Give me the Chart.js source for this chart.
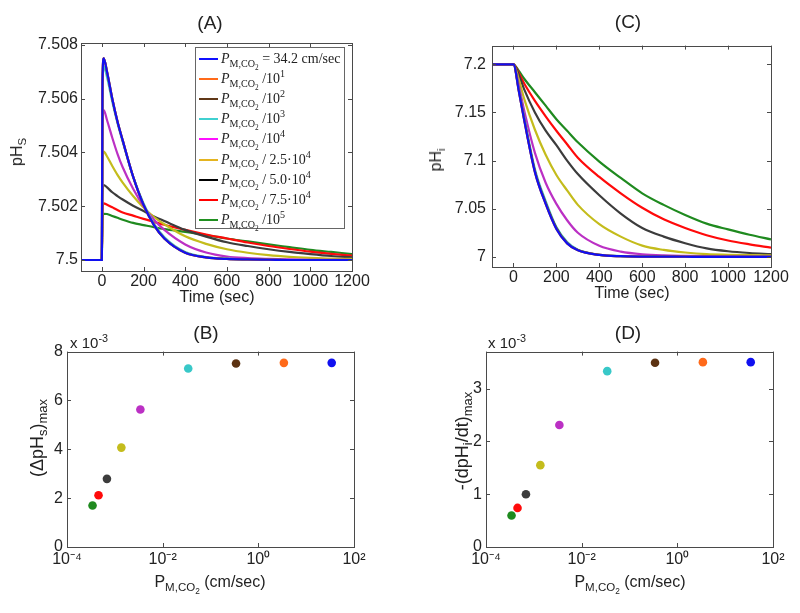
<!DOCTYPE html>
<html>
<head>
<meta charset="utf-8">
<script src="https://cdn.jsdelivr.net/npm/chart.js@4.4.1/dist/chart.umd.min.js"></script>
<style>
    body { margin: 0; background: #fff; }
    #page { position: relative; width: 800px; height: 613px; overflow: hidden;
            font-family: "Liberation Sans", Arial, sans-serif; color: #222; }
    canvas { position: absolute; }
    .lbl { position: absolute; transform: translate(-50%, -50%); white-space: nowrap; font-size: 16px; }
    .rot { transform: translate(-50%, -50%) rotate(-90deg); }
    .big { font-size: 18px; }
    .title { font-size: 19px; }
    sub, sup { font-size: 72%; line-height: 0; }
    #legendA { position: absolute; left: 195px; top: 47px; width: 150px; height: 182px;
               border: 1px solid #666; background: #fff; box-sizing: border-box;
               font-family: "Liberation Serif", "Times New Roman", serif; font-size: 14px; }
    .row { position: absolute; left: 0; height: 18px; line-height: 18px; }
    .swatch { position: absolute; left: 3px; top: 8px; width: 19px; height: 2px; }
    .txt { position: absolute; left: 25px; top: 0; white-space: nowrap; }
</style>
</head>
<body>
<div id="page">
    <canvas id="chartA" width="378" height="265" style="left:0;top:30px"></canvas>
    <canvas id="chartC" width="400" height="265" style="left:400px;top:30px"></canvas>
    <canvas id="chartB" width="380" height="240" style="left:0;top:338px"></canvas>
    <canvas id="chartD" width="400" height="240" style="left:400px;top:338px"></canvas>

    <div class="lbl title" style="left:210px;top:23px">(A)</div>
    <div class="lbl title" style="left:628px;top:22px">(C)</div>
    <div class="lbl title" style="left:206px;top:333px">(B)</div>
    <div class="lbl title" style="left:628px;top:333px">(D)</div>

    <div class="lbl" style="left:217px;top:297px">Time (sec)</div>
    <div class="lbl" style="left:632px;top:293px">Time (sec)</div>
    <div class="lbl rot" style="left:17px;top:152px">pH<sub>S</sub></div>
    <div class="lbl rot" style="left:436px;top:160px">pH<sub>i</sub></div>

    <div class="lbl rot big" style="left:37px;top:438px">(ΔpH<sub>s</sub>)<sub>max</sub></div>
    <div class="lbl rot big" style="left:462px;top:441px">-(dpH<sub>i</sub>/dt)<sub>max</sub></div>
    <div class="lbl" style="left:210px;top:582px">P<sub>M,CO<sub>2</sub></sub> (cm/sec)</div>
    <div class="lbl" style="left:630px;top:582px">P<sub>M,CO<sub>2</sub></sub> (cm/sec)</div>
    <div class="lbl" style="left:89px;top:342px;font-size:15px">x 10<sup>-3</sup></div>
    <div class="lbl" style="left:507px;top:342px;font-size:15px">x 10<sup>-3</sup></div>

    <div id="legendA"></div>
</div>

<script>
/* ---- values ---- */

/* (A) extracellular surface pH vs time */
const timeA = [-100, 0, 3, 9, 25, 50, 75, 100, 150, 200, 250, 300, 400, 500, 600, 700, 800, 900, 1000, 1100, 1200];
const pHsBlue    = [7.5, 7.5, 7.5066, 7.5075, 7.5070, 7.5060, 7.50515, 7.50445, 7.5031, 7.50205, 7.5013, 7.5008, 7.50027, 7.5001, 7.50004, 7.50002, 7.50001, 7.5, 7.5, 7.5, 7.5];
const pHsOrange  = [7.5, 7.5, 7.5066, 7.5075, 7.5070, 7.5060, 7.50515, 7.50445, 7.5031, 7.50205, 7.5013, 7.5008, 7.50027, 7.5001, 7.50004, 7.50002, 7.50001, 7.5, 7.5, 7.5, 7.5];
const pHsBrown   = [7.5, 7.5, 7.5065, 7.5075, 7.5070, 7.5060, 7.50515, 7.50445, 7.5031, 7.50205, 7.5013, 7.5008, 7.50027, 7.5001, 7.50004, 7.50002, 7.50001, 7.5, 7.5, 7.5, 7.5];
const pHsCyan    = [7.5, 7.5, 7.5063, 7.5072, 7.5068, 7.5059, 7.5051, 7.5044, 7.5031, 7.5021, 7.50135, 7.50085, 7.5003, 7.50011, 7.50005, 7.50002, 7.50001, 7.5, 7.5, 7.5, 7.5];
const pHsMagenta = [7.5, 7.5, 7.5049, 7.50558, 7.5052, 7.50455, 7.50395, 7.50345, 7.50265, 7.502, 7.5015, 7.50112, 7.50058, 7.50028, 7.50013, 7.50007, 7.50004, 7.50002, 7.50001, 7.50001, 7.5];
const pHsYellow  = [7.5, 7.5, 7.5035, 7.50403, 7.50385, 7.5035, 7.50317, 7.50288, 7.50238, 7.50195, 7.5016, 7.50133, 7.50088, 7.5006, 7.5004, 7.50027, 7.50018, 7.50012, 7.50008, 7.50005, 7.50004];
const pHsBlack   = [7.5, 7.5, 7.5024, 7.50279, 7.5027, 7.50252, 7.50238, 7.50225, 7.50202, 7.50182, 7.50162, 7.50145, 7.50112, 7.50087, 7.50066, 7.50052, 7.5004, 7.5003, 7.50022, 7.50015, 7.5001];
const pHsRed     = [7.5, 7.5, 7.5018, 7.50211, 7.50206, 7.50196, 7.50186, 7.50177, 7.50165, 7.50153, 7.50142, 7.50131, 7.50112, 7.50095, 7.5008, 7.50065, 7.50052, 7.50041, 7.50031, 7.50023, 7.50016];
const pHsGreen   = [7.5, 7.5, 7.5015, 7.50172, 7.50171, 7.50164, 7.50157, 7.5015, 7.50138, 7.5013, 7.50122, 7.50115, 7.50105, 7.50093, 7.5008, 7.50069, 7.50058, 7.50048, 7.50038, 7.5003, 7.50022];

/* (C) intracellular pH vs time */
const timeC = [-100, 0, 25, 50, 100, 150, 200, 250, 300, 400, 500, 600, 700, 800, 900, 1000, 1100, 1200];
const pHiBlue    = [7.2, 7.2, 7.172, 7.142, 7.088, 7.055, 7.029, 7.014, 7.0068, 7.002, 7.0007, 7.0003, 7.0002, 7.0001, 7.0, 7.0, 7.0, 7.0];
const pHiOrange  = [7.2, 7.2, 7.172, 7.142, 7.088, 7.055, 7.029, 7.014, 7.0068, 7.002, 7.0007, 7.0003, 7.0002, 7.0001, 7.0, 7.0, 7.0, 7.0];
const pHiBrown   = [7.2, 7.2, 7.173, 7.143, 7.089, 7.056, 7.030, 7.0145, 7.007, 7.0021, 7.0007, 7.0003, 7.0002, 7.0001, 7.0, 7.0, 7.0, 7.0];
const pHiCyan    = [7.2, 7.2, 7.174, 7.145, 7.091, 7.058, 7.031, 7.0155, 7.0075, 7.0022, 7.0008, 7.0003, 7.0002, 7.0001, 7.0, 7.0, 7.0, 7.0];
const pHiMagenta = [7.2, 7.2, 7.178, 7.152, 7.108, 7.077, 7.055, 7.038, 7.025, 7.0115, 7.0055, 7.0027, 7.0015, 7.001, 7.0007, 7.0005, 7.0003, 7.0002];
const pHiYellow  = [7.2, 7.2, 7.184, 7.164, 7.132, 7.106, 7.085, 7.069, 7.054, 7.034, 7.021, 7.0117, 7.0072, 7.0045, 7.0028, 7.0022, 7.0018, 7.0016];
const pHiBlack   = [7.2, 7.2, 7.189, 7.174, 7.150, 7.131, 7.116, 7.100, 7.086, 7.064, 7.045, 7.030, 7.021, 7.0142, 7.0088, 7.0058, 7.004, 7.0028];
const pHiRed     = [7.2, 7.2, 7.191, 7.180, 7.162, 7.146, 7.131, 7.117, 7.103, 7.083, 7.066, 7.051, 7.039, 7.030, 7.0225, 7.017, 7.013, 7.0096];
const pHiGreen   = [7.2, 7.2, 7.193, 7.185, 7.171, 7.157, 7.143, 7.131, 7.119, 7.099, 7.082, 7.066, 7.054, 7.0435, 7.0345, 7.0285, 7.023, 7.0182];

/* (B), (D) maxima vs membrane CO2 permeability */
const permeability = [34.2, 3.42, 0.342, 0.0342, 0.00342, 0.001368, 0.000684, 0.000456, 0.000342];
const dpHsMax      = [0.00754, 0.00754, 0.00751, 0.00731, 0.00563, 0.00407, 0.00279, 0.00212, 0.0017];
const dpHiDtMax    = [0.00350, 0.00350, 0.00349, 0.00333, 0.00231, 0.00155, 0.00100, 0.00074, 0.000597];

/* ticks */
const timeTicks = [0, 200, 400, 600, 800, 1000, 1200];
const timeTickLabels = ["0", "200", "400", "600", "800", "1000", "1200"];
const yTicksA = [7.5, 7.502, 7.504, 7.506, 7.508];
const yTickLabelsA = ["7.5", "7.502", "7.504", "7.506", "7.508"];
const yTicksC = [7, 7.05, 7.1, 7.15, 7.2];
const yTickLabelsC = ["7", "7.05", "7.1", "7.15", "7.2"];
const permTicks = [1e-4, 1e-2, 1, 100];
const permTickLabels = ["10⁻⁴", "10⁻²", "10⁰", "10²"];
const yTicksB = [0, 0.002, 0.004, 0.006, 0.008];
const yTickLabelsB = ["0", "2", "4", "6", "8"];
const yTicksD = [0, 0.001, 0.002, 0.003];
const yTickLabelsD = ["0", "1", "2", "3"];

/* legend text after P_M,CO2 */
const legendSuffix = ["= 34.2 cm/sec", "/10<sup>1</sup>", "/10<sup>2</sup>", "/10<sup>3</sup>", "/10<sup>4</sup>",
    "/ 2.5·10<sup>4</sup>", "/ 5.0·10<sup>4</sup>", "/ 7.5·10<sup>4</sup>", "/10<sup>5</sup>"];

const lineColors = ["#1010f0", "#ff6a1a", "#5c3212", "#38c8c8", "#bb30c4", "#c4bc1c", "#3c3c3c", "#ff0a0a", "#1f8a1f"];
const legendColors = ["#1010ff", "#ff6a1a", "#603818", "#40d0d0", "#ff10ff", "#e4b420", "#000000", "#ff0000", "#209020"];

const pHsSeries = [pHsBlue, pHsOrange, pHsBrown, pHsCyan, pHsMagenta, pHsYellow, pHsBlack, pHsRed, pHsGreen];
const pHiSeries = [pHiBlue, pHiOrange, pHiBrown, pHiCyan, pHiMagenta, pHiYellow, pHiBlack, pHiRed, pHiGreen];

/* ---- helpers ---- */

/* MATLAB style box with inward ticks on all four sides */
const matlabBox = {
    id: "matlabBox",
    afterDraw(chart) {
        const { ctx, chartArea: a, scales } = chart;
        const len = 4;
        ctx.save();
        ctx.strokeStyle = "#4a4a4a";
        ctx.lineWidth = 1;
        ctx.beginPath();
        scales.x.ticks.forEach(t => {
            const px = Math.round(scales.x.getPixelForValue(t.value)) + 0.5;
            ctx.moveTo(px, a.bottom); ctx.lineTo(px, a.bottom - len);
            ctx.moveTo(px, a.top); ctx.lineTo(px, a.top + len);
        });
        scales.y.ticks.forEach(t => {
            const py = Math.round(scales.y.getPixelForValue(t.value)) + 0.5;
            ctx.moveTo(a.left, py); ctx.lineTo(a.left + len, py);
            ctx.moveTo(a.right, py); ctx.lineTo(a.right - len, py);
        });
        ctx.stroke();
        ctx.strokeRect(Math.round(a.left) + 0.5, Math.round(a.top) + 0.5, Math.round(a.width), Math.round(a.height));
        ctx.restore();
    }
};

function makeScale(o) {
    return {
        type: o.type || "linear",
        min: o.min,
        max: o.max,
        grid: { display: false, drawTicks: false },
        border: { display: false },
        afterBuildTicks: (scale) => { scale.ticks = o.ticks.map(v => ({ value: v })); },
        afterFit: (scale) => {
            if (o.width) scale.width = o.width;
            if (o.height) scale.height = o.height;
        },
        ticks: {
            autoSkip: false,
            maxRotation: 0,
            padding: o.pad,
            color: "#222",
            font: { family: "Liberation Sans", size: 16 },
            callback: (v, i) => o.labels[i]
        }
    };
}

function baseOptions(x, y, pad) {
    return {
        responsive: false,
        animation: false,
        events: [],
        layout: { autoPadding: false, padding: { top: pad.top, right: pad.right, left: 0, bottom: 0 } },
        plugins: { legend: { display: false }, tooltip: { enabled: false } },
        scales: { x: makeScale(x), y: makeScale(y) }
    };
}

function toPoints(xs, ys) {
    return xs.map((x, i) => ({ x: x, y: ys[i] }));
}

function lineChart(id, xs, series, x, y, pad) {
    return new Chart(document.getElementById(id), {
        type: "line",
        data: {
            datasets: series.map((ys, i) => ({
                data: toPoints(xs, ys),
                borderColor: lineColors[i],
                borderWidth: 2.2,
                pointRadius: 0,
                cubicInterpolationMode: "monotone"
            }))
        },
        options: baseOptions(x, y, pad),
        plugins: [matlabBox]
    });
}

function dotChart(id, values, x, y, pad) {
    return new Chart(document.getElementById(id), {
        type: "scatter",
        data: {
            datasets: [{
                data: toPoints(permeability, values),
                pointRadius: 4.3,
                pointBorderWidth: 0,
                pointBackgroundColor: lineColors
            }]
        },
        options: baseOptions(x, y, pad),
        plugins: [matlabBox]
    });
}

/* ---- charts ---- */

lineChart("chartA", timeA, pHsSeries,
    { min: -100, max: 1200, ticks: timeTicks, labels: timeTickLabels, height: 24, pad: 1 },
    { min: 7.499591, max: 7.508074, ticks: yTicksA, labels: yTickLabelsA, width: 81, pad: 3 },
    { top: 13, right: 26 });

lineChart("chartC", timeC, pHiSeries,
    { min: -100, max: 1200, ticks: timeTicks, labels: timeTickLabels, height: 28, pad: 1 },
    { min: 6.98947, max: 7.2194, ticks: yTicksC, labels: yTickLabelsC, width: 92, pad: 6 },
    { top: 12, right: 29 });

dotChart("chartB", dpHsMax,
    { type: "logarithmic", min: 1e-4, max: 100, ticks: permTicks, labels: permTickLabels, height: 31, pad: 3 },
    { min: 0, max: 0.008, ticks: yTicksB, labels: yTickLabelsB, width: 67, pad: 4 },
    { top: 13, right: 26 });

dotChart("chartD", dpHiDtMax,
    { type: "logarithmic", min: 1e-4, max: 100, ticks: permTicks, labels: permTickLabels, height: 31, pad: 3 },
    { min: 0, max: 0.0037, ticks: yTicksD, labels: yTickLabelsD, width: 86, pad: 4 },
    { top: 13, right: 27 });

/* ---- legend for (A), built from the series ---- */
const legend = document.getElementById("legendA");
legendSuffix.forEach((s, i) => {
    const row = document.createElement("div");
    row.className = "row";
    row.style.top = (2 + i * 20.1) + "px";
    row.innerHTML = `<span class="swatch" style="background:${legendColors[i]}"></span>` +
        `<span class="txt"><i>P</i><sub>M,CO<sub>2</sub></sub> ${s}</span>`;
    legend.appendChild(row);
});
</script>
</body>
</html>
